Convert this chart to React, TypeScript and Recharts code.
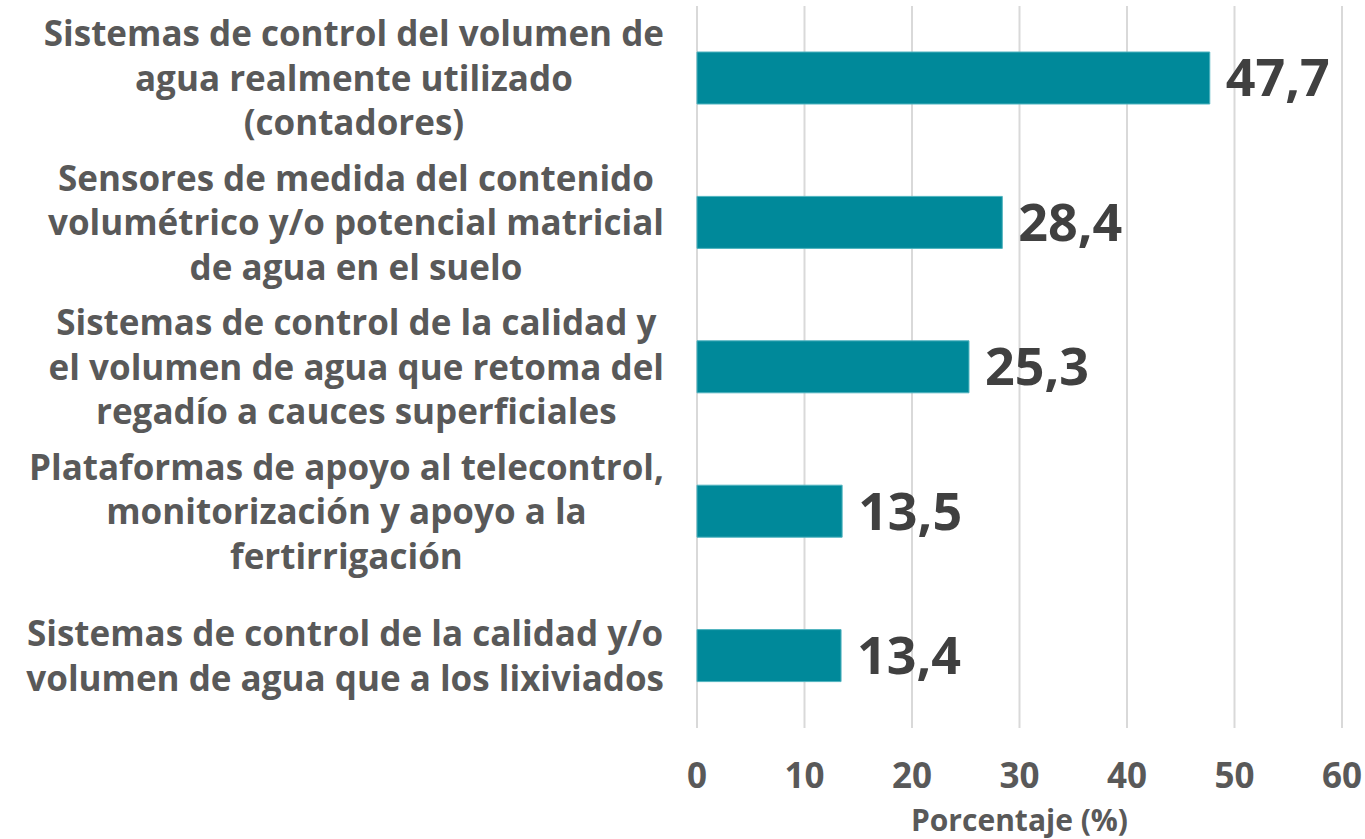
import { BarChart, Bar, XAxis, YAxis, CartesianGrid, LabelList } from 'recharts'

// categories (top to bottom) split into the lines they wrap to
const categories = [
  ['Sistemas de control del volumen de', 'agua realmente utilizado', '(contadores)'],
  ['Sensores de medida del contenido', 'volumétrico y/o potencial matricial', 'de agua en el suelo'],
  ['Sistemas de control de la calidad y', 'el volumen de agua que retoma del', 'regadío a cauces superficiales'],
  ['Plataformas de apoyo al telecontrol,', 'monitorización y apoyo a la', 'fertirrigación'],
  ['Sistemas de control de la calidad y/o', 'volumen de agua que a los lixiviados'],
]
const values = [47.7, 28.4, 25.3, 13.5, 13.4]
const xTicks = [0, 10, 20, 30, 40, 50, 60]

const FONT = '"Open Sans", sans-serif'
const LABEL_SIZE = 35
const LINE_H = 44.5

const data = categories.map((c, i) => ({ name: c.join('\n'), value: values[i] }))

let canvas: HTMLCanvasElement | null = null
function textWidth(s: string) {
  if (!canvas) canvas = document.createElement('canvas')
  const ctx = canvas.getContext('2d')!
  ctx.font = `700 ${LABEL_SIZE}px ${FONT}`
  return ctx.measureText(s).width
}

function CategoryTick(props: any) {
  const { y, payload } = props
  const lines = String(payload.value).split('\n')
  const maxW = Math.max(...lines.map(textWidth))
  const right = 664
  const cx = right - maxW / 2
  const y0 = y - ((lines.length - 1) * LINE_H) / 2
  return (
    <text x={cx} y={y0} textAnchor="middle" fill="#595959" fontFamily={FONT} fontWeight={700} fontSize={LABEL_SIZE}>
      {lines.map((l, i) => (
        <tspan key={i} x={cx} y={y0 + i * LINE_H} dy="0.36em">{l}</tspan>
      ))}
    </text>
  )
}

export default function App() {
  return (
    <div style={{ position: 'absolute', left: 0, top: 0, background: '#fff' }}>
      <BarChart
        width={1365}
        height={839}
        data={data}
        layout="vertical"
        margin={{ top: 6, right: 23, bottom: 0, left: 0 }}
        barCategoryGap={0}
      >
        <CartesianGrid horizontal={false} stroke="#d9d9d9" strokeWidth={2} />
        <XAxis
          type="number"
          domain={[0, 60]}
          ticks={xTicks}
          axisLine={false}
          tickLine={false}
          height={111}
          tickMargin={29}
          tick={{ fill: '#595959', fontFamily: FONT, fontWeight: 700, fontSize: 35 }}
          label={{
            value: 'Porcentaje (%)',
            position: 'insideBottom',
            offset: 8,
            fill: '#595959',
            fontFamily: FONT,
            fontWeight: 700,
            fontSize: 30,
          }}
        />
        <YAxis
          type="category"
          dataKey="name"
          width={697}
          axisLine={false}
          tickLine={false}
          interval={0}
          tick={<CategoryTick />}
        />
        <Bar dataKey="value" fill="#00899a" stroke="#4fb3bf" strokeWidth={1} barSize={52} isAnimationActive={false}>
          <LabelList
            dataKey="value"
            position="right"
            offset={16}
            formatter={(v: any) => String(v).replace('.', ',')}
            fill="#404040"
            fontFamily={FONT}
            fontWeight={700}
            fontSize={52}
          />
        </Bar>
      </BarChart>
    </div>
  )
}
